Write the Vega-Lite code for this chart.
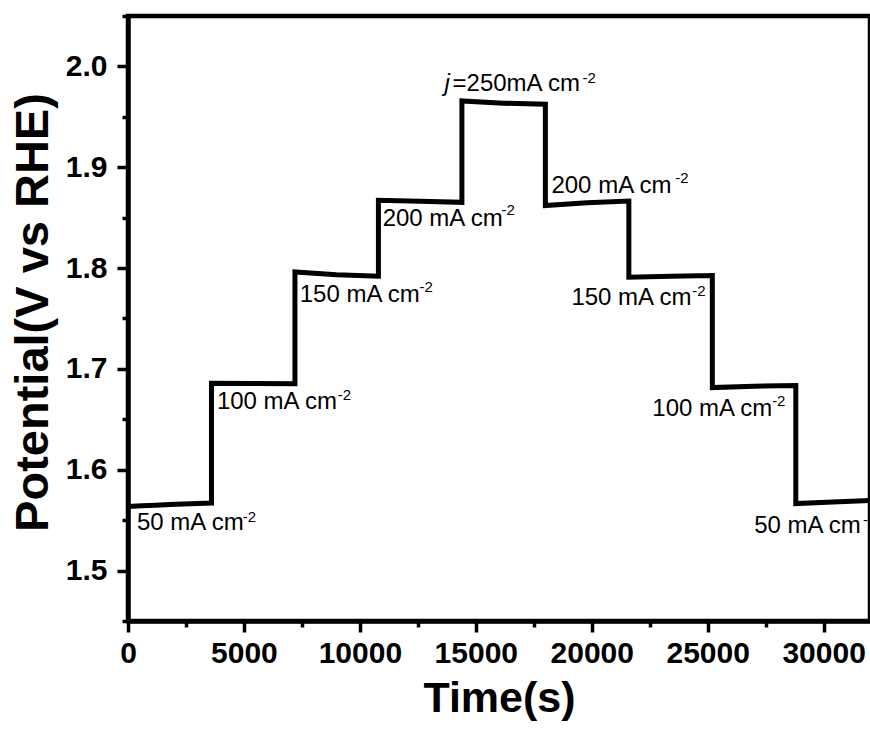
{
  "$schema": "https://vega.github.io/schema/vega-lite/v6.json",
  "autosize": {"type": "none"},
  "padding": {"left": 128, "top": 16, "right": 0, "bottom": 108},
  "width": 742,
  "height": 605,
  "background": "white",
  "config": {
    "view": {"stroke": "black", "strokeWidth": 4.5},
    "axis": {
      "grid": false,
      "domainColor": "black",
      "domainWidth": 4.5,
      "tickColor": "black",
      "tickWidth": 3.5,
      "labelFont": "Liberation Sans",
      "labelFontWeight": "bold",
      "labelFontSize": 30,
      "labelColor": "black",
      "titleFont": "Liberation Sans",
      "titleFontWeight": "bold",
      "titleColor": "black"
    }
  },
  "datasets": {
    "series": [
      {"t": 0, "v": 1.5635}, {"t": 600, "v": 1.5642}, {"t": 1200, "v": 1.5648}, {"t": 1800, "v": 1.5655}, {"t": 2400, "v": 1.566}, {"t": 3000, "v": 1.5665}, {"t": 3600, "v": 1.567},
      {"t": 3600, "v": 1.6857}, {"t": 5400, "v": 1.6855}, {"t": 7200, "v": 1.6852},
      {"t": 7200, "v": 1.7962}, {"t": 9000, "v": 1.7935}, {"t": 10800, "v": 1.792},
      {"t": 10800, "v": 1.8672}, {"t": 12600, "v": 1.8662}, {"t": 14400, "v": 1.8652},
      {"t": 14400, "v": 1.9658}, {"t": 16200, "v": 1.9635}, {"t": 18000, "v": 1.9625},
      {"t": 18000, "v": 1.862}, {"t": 19800, "v": 1.8648}, {"t": 21600, "v": 1.8665},
      {"t": 21600, "v": 1.791}, {"t": 23400, "v": 1.792}, {"t": 25200, "v": 1.7927},
      {"t": 25200, "v": 1.6815}, {"t": 27000, "v": 1.6828}, {"t": 28800, "v": 1.6836},
      {"t": 28800, "v": 1.5665}, {"t": 30400, "v": 1.568}, {"t": 32000, "v": 1.5694}
    ],
    "labels": [
      {"t": 388, "v": 1.5407, "text": "50 mA cm"},
      {"t": 3833, "v": 1.6607, "text": "100 mA cm"},
      {"t": 7408, "v": 1.7659, "text": "150 mA cm"},
      {"t": 10982, "v": 1.8413, "text": "200 mA cm"},
      {"t": 13997, "v": 1.9752, "text": "=250mA cm"},
      {"t": 18261, "v": 1.874, "text": "200 mA cm"},
      {"t": 19122, "v": 1.7629, "text": "150 mA cm"},
      {"t": 22611, "v": 1.6538, "text": "100 mA cm"},
      {"t": 27004, "v": 1.5377, "text": "50 mA cm"}
    ],
    "italic": [
      {"t": 13653, "v": 1.9752, "text": "j"}
    ],
    "sups": [
      {"t": 4953, "v": 1.5479, "text": "-2"},
      {"t": 9044, "v": 1.6687, "text": "-2"},
      {"t": 12576, "v": 1.7758, "text": "-2"},
      {"t": 16107, "v": 1.8522, "text": "-2"},
      {"t": 19600, "v": 1.9831, "text": "-2"},
      {"t": 23601, "v": 1.8839, "text": "-2"},
      {"t": 24334, "v": 1.7728, "text": "-2"},
      {"t": 27779, "v": 1.6637, "text": "-2"},
      {"t": 31698, "v": 1.5456, "text": "-2"}
    ]
  },
  "encoding": {
    "x": {
      "field": "t", "type": "quantitative",
      "scale": {"domain": [0, 32000], "nice": false, "zero": false},
      "axis": {
        "title": "Time(s)",
        "titleFontSize": 43,
        "titlePadding": 9,
        "values": [0, 2500, 5000, 7500, 10000, 12500, 15000, 17500, 20000, 22500, 25000, 27500, 30000],
        "labelExpr": "datum.value % 5000 === 0 ? datum.label : ''",
        "format": "d",
        "tickSize": {"condition": {"test": "datum.value % 5000 === 0", "value": 11}, "value": 6},
        "labelPadding": 6,
        "labelFlush": false,
        "labelOverlap": false
      }
    },
    "y": {
      "field": "v", "type": "quantitative",
      "scale": {"domain": [1.45, 2.05], "nice": false, "zero": false},
      "axis": {
        "title": "Potential(V vs RHE)",
        "titleFontSize": 47,
        "titlePadding": 8,
        "titleY": 296,
        "values": [1.45, 1.5, 1.55, 1.6, 1.65, 1.7, 1.75, 1.8, 1.85, 1.9, 1.95, 2.0, 2.05],
        "labelExpr": "abs(datum.value * 10 - round(datum.value * 10)) < 0.001 ? format(datum.value, '.1f') : ''",
        "tickSize": {"condition": {"test": "abs(datum.value * 10 - round(datum.value * 10)) < 0.001", "value": 11}, "value": 6},
        "labelPadding": 10,
        "labelFlush": false,
        "labelOverlap": false
      }
    }
  },
  "layer": [
    {
      "data": {"name": "series"},
      "mark": {"type": "line", "color": "black", "strokeWidth": 5, "strokeJoin": "miter", "strokeCap": "butt"},
      "encoding": {"order": {"value": 0}}
    },
    {
      "data": {"name": "labels"},
      "mark": {"type": "text", "align": "left", "baseline": "alphabetic", "font": "Liberation Sans", "fontSize": 24, "color": "black"},
      "encoding": {"text": {"field": "text"}}
    },
    {
      "data": {"name": "italic"},
      "mark": {"type": "text", "align": "left", "baseline": "alphabetic", "font": "Liberation Sans", "fontSize": 24, "fontStyle": "italic", "color": "black"},
      "encoding": {"text": {"field": "text"}}
    },
    {
      "data": {"name": "sups"},
      "mark": {"type": "text", "align": "left", "baseline": "alphabetic", "font": "Liberation Sans", "fontSize": 15, "color": "black"},
      "encoding": {"text": {"field": "text"}}
    }
  ]
}
